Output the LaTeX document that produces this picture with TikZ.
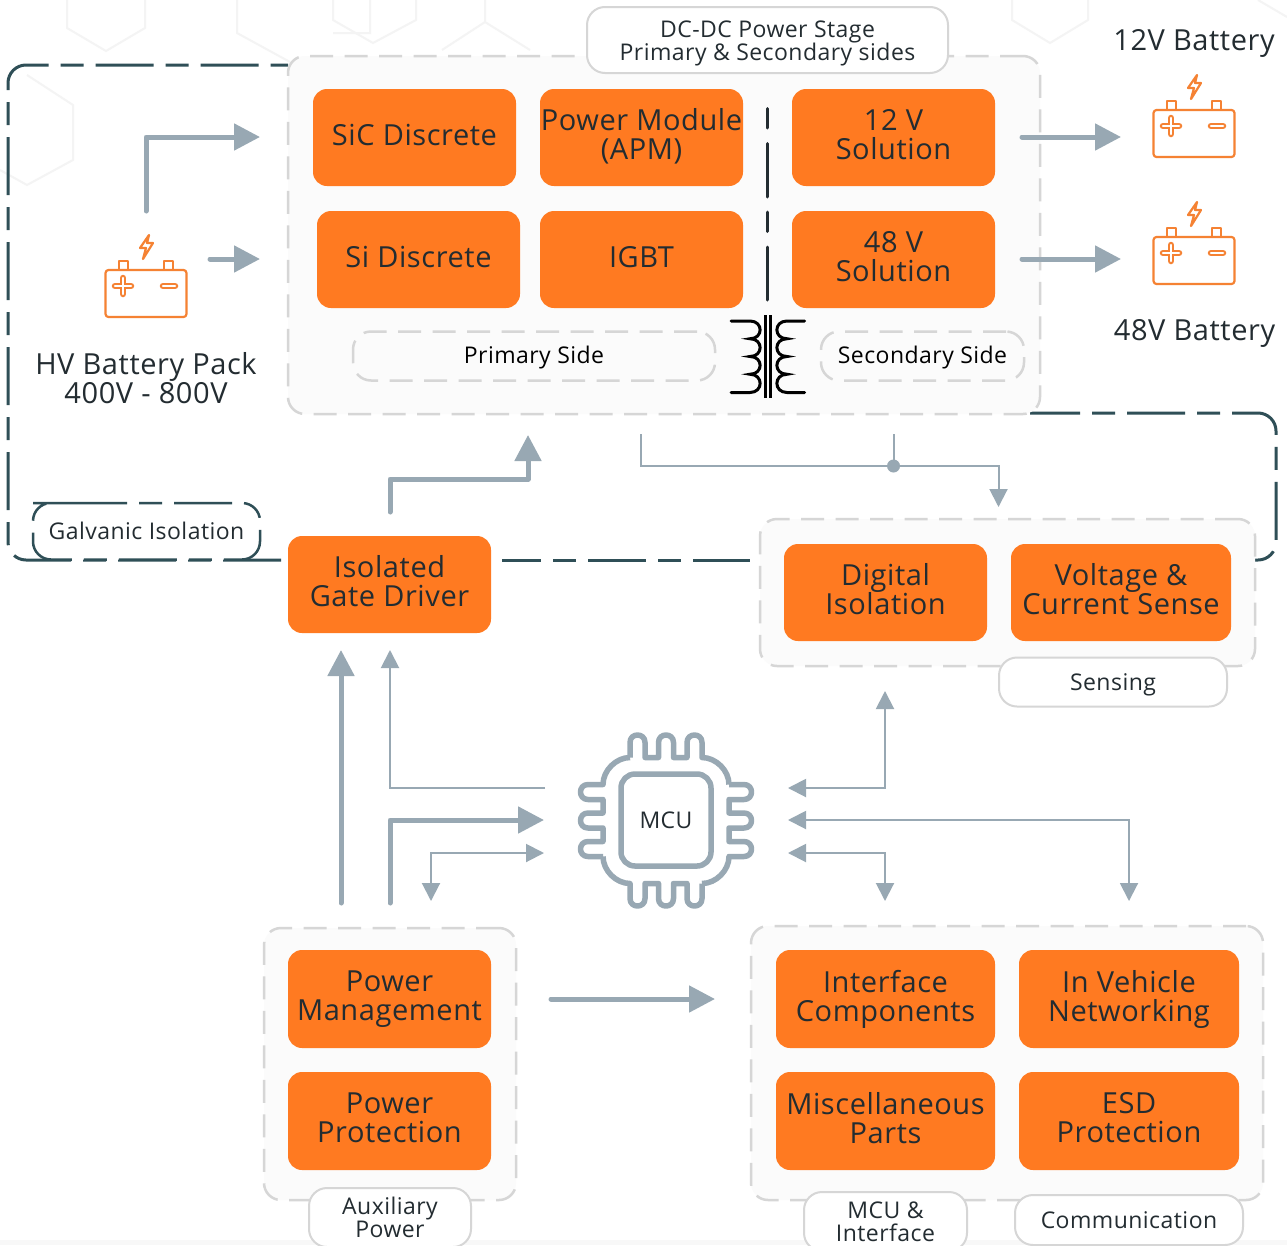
\documentclass[tikz,border=0pt]{standalone}
\usepackage{fontspec}
\setmainfont[LetterSpace=2]{Open Sans}
\usetikzlibrary{arrows.meta}
\definecolor{boxor}{HTML}{FF7A21}
\definecolor{iconor}{HTML}{F58233}
\definecolor{flowc}{HTML}{98A8B3}
\definecolor{isoc}{HTML}{2F4F57}
\definecolor{greyd}{HTML}{D6D6D6}
\definecolor{groupf}{HTML}{FBFBFB}
\definecolor{txt}{HTML}{232C31}
\definecolor{hexc}{HTML}{F4F4F4}
\definecolor{bandc}{HTML}{F8F8F8}
\newcommand{\bigtxt}{\fontsize{29}{29}\selectfont}
\newcommand{\midtxt}{\fontsize{23}{23}\selectfont}
\newcommand{\tagstrut}{\rule{0pt}{24.5pt}}
\newcommand{\lowstrut}{\rule{0pt}{18pt}}
\tikzset{
  x=1pt,y=-1pt,
  orbox/.style={fill=boxor,rounded corners=14pt,text=txt,align=center,inner sep=0pt,outer sep=0pt,font=\bigtxt,
    execute at begin node={\rule{0pt}{22pt}},execute at end node={\rule[-6.5pt]{0pt}{6.5pt}}},
  groupbox/.style={fill=groupf,draw=greyd,line width=2.5pt,dash pattern=on 23pt off 11.5pt,rounded corners=17pt,inner sep=0pt,outer sep=0pt},
  tagbox/.style={fill=white,draw=greyd,line width=2pt,rounded corners=18pt,align=center,inner sep=0pt,outer sep=0pt,font=\midtxt,text=txt,
    execute at begin node={\rule{0pt}{22pt}},execute at end node={\rule[-6pt]{0pt}{6pt}}},
  tagtwo/.style={fill=white,draw=greyd,line width=2pt,rounded corners=18pt,align=center,inner sep=0pt,outer sep=0pt,font=\midtxt,text=txt},
  sidebox/.style={draw=greyd,line width=2.5pt,dash pattern=on 23pt off 11.5pt,rounded corners=18pt,align=center,inner sep=0pt,outer sep=0pt,font=\midtxt,text=black,
    execute at begin node={\rule{0pt}{20pt}},execute at end node={\rule[-6pt]{0pt}{6pt}}},
  isoline/.style={draw=isoc,line width=3pt,dash pattern=on 58pt off 12pt on 23pt off 12pt,rounded corners=18pt},
  plain/.style={text=txt,align=center,inner sep=0pt,font=\bigtxt},
  thickflow/.style={draw=flowc,line width=5pt,line cap=round,line join=round,-{Triangle[length=26pt,width=26pt]}},
  thinflow/.style={draw=flowc,line width=2pt,-{Triangle[length=18pt,width=18pt]}},
  bothflow/.style={draw=flowc,line width=2pt,{Triangle[length=18pt,width=18pt]}-{Triangle[length=18pt,width=18pt]}},
  hexline/.style={draw=hexc,line width=2pt},
  battline/.style={draw=iconor,line width=2.2pt,line join=round},
  xfmr/.style={draw=black,line width=3pt,line cap=round},
  battery/.pic={
    \draw[battline,rounded corners=3pt] (0.5,0) rectangle (81.5,47);
    \draw[battline] (14,0) -- (14,-9) -- (23,-9) -- (23,0);
    \draw[battline] (59,0) -- (59,-9) -- (68,-9) -- (68,0);
    \draw[iconor,line width=6.5pt,line cap=round] (10,16) -- (26,16) (18,8) -- (18,24);
    \draw[white,line width=2.5pt,line cap=round] (10,16) -- (26,16) (18,8) -- (18,24);
    \draw[iconor,line width=6.5pt,line cap=round] (58,16) -- (70,16);
    \draw[white,line width=2.5pt,line cap=round] (58,16) -- (70,16);
    \draw[battline,miter limit=10] (44,-35) -- (35,-22) -- (41,-22) -- (38,-11) -- (48,-27) -- (42,-27) -- cycle;
  }
}
\begin{document}
\begin{tikzpicture}
\useasboundingbox (0,0) rectangle (1287,1245);
\clip (0,0) rectangle (1287,1245);
\fill[white] (0,0) rectangle (1287,1245);
\fill[bandc] (0,1240) rectangle (1287,1245);
% faint background hexagons
\draw[hexline] (67,0) -- (67,28) -- (106,51) -- (145,28) -- (145,0);
\draw[hexline] (237,0) -- (237,33) -- (290,62) (333,33) -- (370,33) -- (370,0);
\draw[hexline] (333,0) -- (333,20) -- (373,43) -- (416,20) -- (416,0);
\draw[hexline] (442,50) -- (485,22) -- (530,50) (485,22) -- (485,0);
\draw[hexline] (27,75) -- (73,105) -- (73,160) -- (27,185) -- (0,170);
\draw[hexline] (1012,0) -- (1012,20) -- (1050,43) -- (1088,20) -- (1088,0);
\draw[hexline] (1258,0) -- (1287,17);
% galvanic isolation boundary
\coordinate (isoA) at (288,65);
\coordinate (isoB) at (8,65);
\coordinate (isoC) at (8,560);
\coordinate (isoD) at (288,560);
\coordinate (isoE) at (502,560);
\coordinate (isoF) at (750,560);
\coordinate (isoG) at (1030,413);
\coordinate (isoH) at (1276,413);
\coordinate (isoI) at (1276,560);
\coordinate (isoJ) at (1255,560);
\draw[isoline,dash phase=98pt] (isoD) -- (isoC) -- (isoB) -- (isoA);
\draw[isoline,dash phase=19pt] (isoE) -- (isoF);
\draw[isoline,dash phase=8pt] (isoG) -- (isoH) -- (isoI) -- (isoJ);
% groups
\node[groupbox,minimum width=752pt,minimum height=358pt] (dcgroup) at (664,235) {};
\node[groupbox,minimum width=495pt,minimum height=147pt] (sensegroup) at (1007.5,592.5) {};
\node[groupbox,minimum width=252pt,minimum height=272pt] (auxgroup) at (390,1064) {};
\node[groupbox,minimum width=512pt,minimum height=274pt] (mcugroup) at (1007,1063) {};
% tags
\node[tagtwo,minimum width=361pt,minimum height=66pt] (dctag) at (767.5,40) {\tagstrut DC-DC Power Stage\\Primary \& Secondary sides};
\node[tagbox,minimum width=228pt,minimum height=49pt] (sensetag) at (1113,682) {Sensing};
\node[tagtwo,minimum width=162pt,minimum height=59pt] (auxtag) at (390,1217.5) {\lowstrut Auxiliary\\Power};
\node[tagtwo,minimum width=163pt,minimum height=59pt] (mcutag) at (885.5,1221.5) {\lowstrut MCU \&\\Interface};
\node[tagbox,minimum width=228pt,minimum height=50pt] (commtag) at (1129,1220) {Communication};
\node[sidebox,minimum width=362pt,minimum height=49pt] (primside) at (534,356) {Primary Side};
\node[sidebox,minimum width=203pt,minimum height=49pt] (secside) at (922.5,356) {Secondary Side};
\node[fill=white,rounded corners=18pt,minimum width=227pt,minimum height=56.5pt,inner sep=0pt,outer sep=0pt,font=\midtxt,text=txt] (galv) at (146.5,531.25) {Galvanic Isolation};
\draw[isoline,line width=2.5pt] (51,503) -- (260,503) -- (260,559.5) -- (33,559.5) -- (33,503) -- cycle;
% orange boxes
\node[orbox,minimum width=203pt,minimum height=97pt] (sic) at (414.5,137.5) {SiC Discrete};
\node[orbox,minimum width=203pt,minimum height=97pt] (pm) at (641.5,137.5) {Power Module\\(APM)};
\node[orbox,minimum width=203pt,minimum height=97pt] (v12) at (893.5,137.5) {12 V\\Solution};
\node[orbox,minimum width=203pt,minimum height=97pt] (si) at (418.5,259.5) {Si Discrete};
\node[orbox,minimum width=203pt,minimum height=97pt] (igbt) at (641.5,259.5) {IGBT};
\node[orbox,minimum width=203pt,minimum height=97pt] (v48) at (893.5,259.5) {48 V\\Solution};
\node[orbox,minimum width=203pt,minimum height=97pt] (gate) at (389.5,584.5) {Isolated\\Gate Driver};
\node[orbox,minimum width=203pt,minimum height=97pt] (diso) at (885.5,592.5) {Digital\\Isolation};
\node[orbox,minimum width=220pt,minimum height=97pt] (vcs) at (1121,592.5) {Voltage \&\\Current Sense};
\node[orbox,minimum width=203pt,minimum height=98pt] (pmgmt) at (389.5,999) {Power\\Management};
\node[orbox,minimum width=203pt,minimum height=98pt] (pprot) at (389.5,1121) {Power\\Protection};
\node[orbox,minimum width=219pt,minimum height=98pt] (iface) at (885.5,999) {Interface\\Components};
\node[orbox,minimum width=220pt,minimum height=98pt] (ivn) at (1129,999) {In Vehicle\\Networking};
\node[orbox,minimum width=219pt,minimum height=98pt] (misc) at (885.5,1121) {Miscellaneous\\Parts};
\node[orbox,minimum width=220pt,minimum height=98pt] (esd) at (1129,1121) {ESD\\Protection};
% primary/secondary divider
\coordinate (divA) at (767.7,108.5);
\coordinate (divB) at (767.7,300);
\draw[draw=txt,line width=3pt,line cap=round,dash pattern=on 19.5pt off 15.5pt on 53.5pt off 15pt] (divA) -- (divB);
% transformer
\draw[black,line width=3pt] (765,315) -- (765,398) (770.3,315) -- (770.3,398);
\draw[xfmr] (731,321) -- (750,321)
  .. controls (763.5,321) and (763.5,338.75) .. (750,338.75)
  .. controls (763.5,338.75) and (763.5,356.5) .. (750,356.5)
  .. controls (763.5,356.5) and (763.5,374.25) .. (750,374.25)
  .. controls (763.5,374.25) and (763.5,392.5) .. (750,392.5) -- (731,392.5);
\draw[xfmr] (804.5,321) -- (787,321)
  .. controls (773.5,321) and (773.5,338.75) .. (787,338.75)
  .. controls (773.5,338.75) and (773.5,356.5) .. (787,356.5)
  .. controls (773.5,356.5) and (773.5,374.25) .. (787,374.25)
  .. controls (773.5,374.25) and (773.5,392.5) .. (787,392.5) -- (804.5,392.5);
% batteries
\pic at (105,270) {battery};
\pic at (1153,110) {battery};
\pic at (1153,237) {battery};
\node[plain] (hvlabel) at (146,378.5) {HV Battery Pack\\400V - 800V};
\node[plain] (b12label) at (1194,43) {12V Battery};
\node[plain] (b48label) at (1194.5,333) {48V Battery};
% MCU chip
\foreach \ang in {0,90,180,270}{
  \begin{scope}[shift={(666,820.5)},rotate=\ang]
    \draw[flowc,line width=5.5pt,line join=round]
      (-36,-63) -- (-36,-78) .. controls (-36,-88) and (-21,-88) .. (-21,-78) -- (-21,-63) -- (-7.5,-63)
      -- (-7.5,-78) .. controls (-7.5,-88) and (7.5,-88) .. (7.5,-78) -- (7.5,-63) -- (21,-63)
      -- (21,-78) .. controls (21,-88) and (36,-88) .. (36,-78) -- (36,-63)
      .. controls (50,-63) and (63,-50) .. (63,-36);
  \end{scope}
}
\node[draw=flowc,line width=5.5pt,rounded corners=14pt,minimum width=90pt,minimum height=92pt,inner sep=0pt,font=\midtxt,text=txt] (mcu) at (666,820) {MCU};
% connector end points
\coordinate (hvUp) at (146,211);
\coordinate (hvUpEnd) at (260,137);
\coordinate (hvRight) at (210,259);
\coordinate (hvRightEnd) at (260,259);
\coordinate (out12) at (1022,137);
\coordinate (out12End) at (1121,137);
\coordinate (out48) at (1022,259);
\coordinate (out48End) at (1121,259);
\coordinate (gateOut) at (390,512);
\coordinate (gateMid) at (528,479);
\coordinate (gateEnd) at (528,435);
\coordinate (pmUp) at (341,903);
\coordinate (pmUpEnd) at (341,650);
\coordinate (mcuGate) at (545,788);
\coordinate (mcuGateEnd) at (390,650);
\coordinate (pmMcu) at (390,903);
\coordinate (pmMcuEnd) at (544,820);
\coordinate (mcuBack) at (544,853);
\coordinate (mcuBackEnd) at (431,901);
\coordinate (mcuSense) at (788,788);
\coordinate (mcuSenseEnd) at (885,691);
\coordinate (mcuComm) at (788,820);
\coordinate (mcuCommEnd) at (1129,901);
\coordinate (mcuIf) at (788,853);
\coordinate (mcuIfEnd) at (885,901);
\coordinate (auxOut) at (551,999);
\coordinate (auxOutEnd) at (715,999);
\coordinate (tapPrim) at (641,434);
\coordinate (tapSec) at (893.5,434);
\coordinate (tapEnd) at (998.5,507);
\node[circle,fill=flowc,minimum size=13pt,inner sep=0pt,outer sep=0pt] (tapDot) at (893.5,466) {};
% connectors
\draw[thickflow] (hvUp) |- (hvUpEnd);
\draw[thickflow] (hvRight) -- (hvRightEnd);
\draw[thickflow] (out12) -- (out12End);
\draw[thickflow] (out48) -- (out48End);
\draw[thickflow] (gateOut) |- (gateMid) -- (gateEnd);
\draw[thickflow] (pmUp) -- (pmUpEnd);
\draw[thinflow] (mcuGate) -| (mcuGateEnd);
\draw[thickflow] (pmMcu) |- (pmMcuEnd);
\draw[bothflow] (mcuBack) -| (mcuBackEnd);
\draw[bothflow] (mcuSense) -| (mcuSenseEnd);
\draw[bothflow] (mcuComm) -| (mcuCommEnd);
\draw[bothflow] (mcuIf) -| (mcuIfEnd);
\draw[thickflow] (auxOut) -- (auxOutEnd);
\draw[thinflow] (tapPrim) |- (tapDot.center) -| (tapEnd);
\draw[draw=flowc,line width=2pt] (tapSec) -- (tapDot);
\end{tikzpicture}
\end{document}
